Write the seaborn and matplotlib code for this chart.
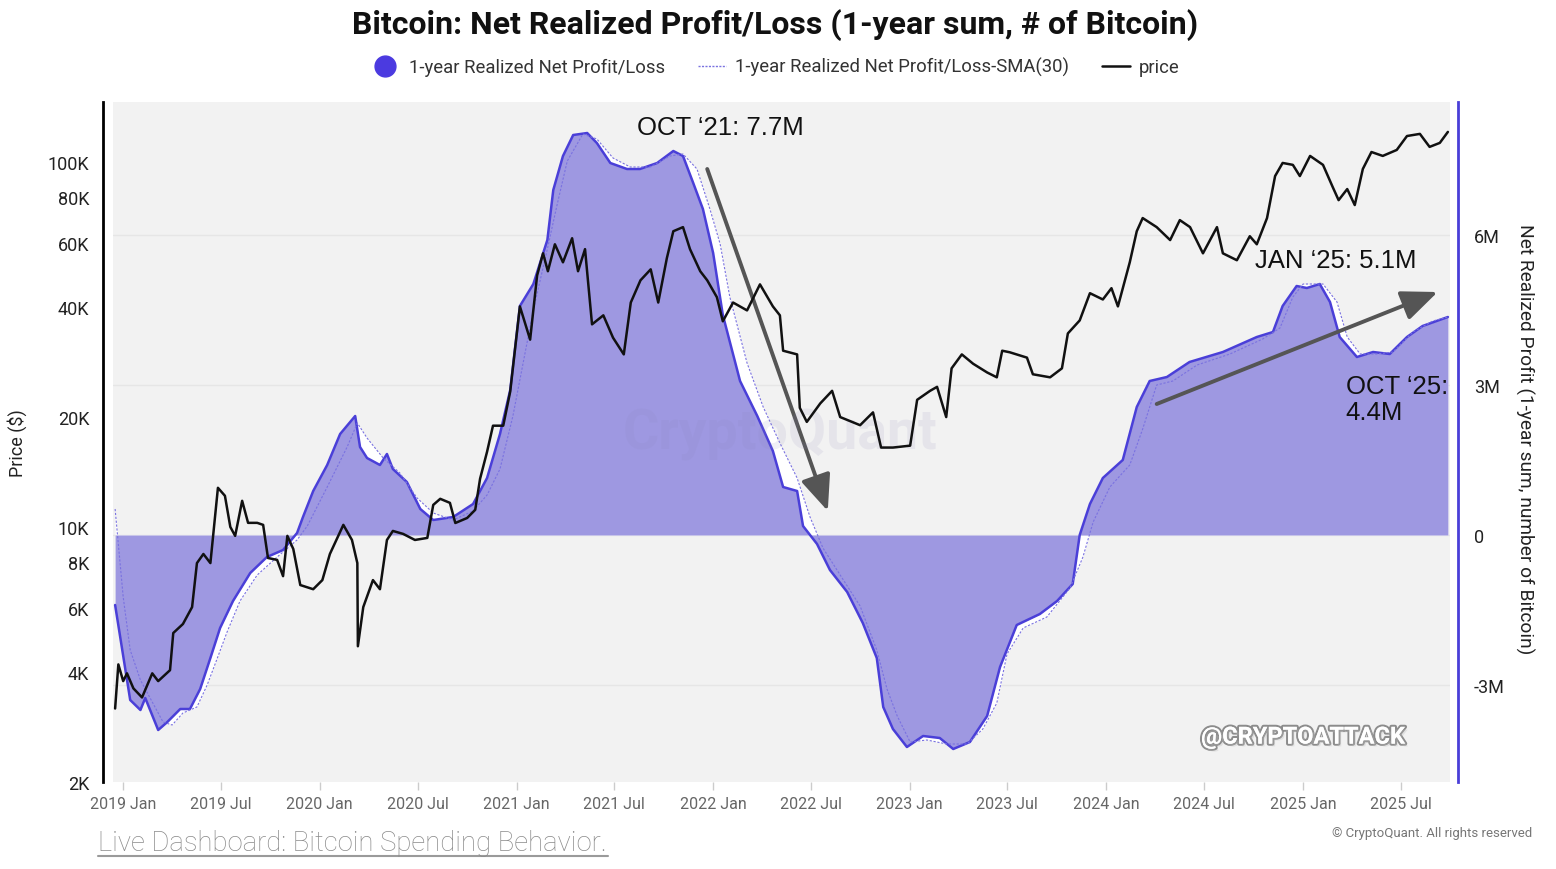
import pandas as pd
import seaborn as sns
import matplotlib.pyplot as plt
import matplotlib.dates as mdates
import matplotlib.ticker as mticker
import matplotlib.patheffects as pe
from matplotlib.lines import Line2D

# 1-year realized net profit/loss, million BTC
nrpl_dates = [
    '2018-12-17', '2019-01-14', '2019-02-02', '2019-02-11', '2019-03-07', '2019-03-24',
    '2019-04-17', '2019-05-05', '2019-05-24', '2019-06-12', '2019-06-30', '2019-07-24',
    '2019-08-25', '2019-09-25', '2019-10-25', '2019-11-20', '2019-12-01', '2019-12-20',
    '2020-01-15', '2020-02-08', '2020-03-07', '2020-03-16', '2020-03-29', '2020-04-22',
    '2020-05-05', '2020-05-16', '2020-06-11', '2020-07-06', '2020-07-30', '2020-09-05',
    '2020-10-12', '2020-11-07', '2020-12-01', '2020-12-20', '2021-01-07', '2021-02-01',
    '2021-02-27', '2021-03-10', '2021-03-28', '2021-04-16', '2021-05-12', '2021-05-30',
    '2021-06-24', '2021-07-25', '2021-08-18', '2021-09-19', '2021-10-19', '2021-11-06',
    '2021-11-25', '2021-12-13', '2022-01-01', '2022-01-19', '2022-02-20', '2022-03-24',
    '2022-04-22', '2022-05-11', '2022-06-06', '2022-06-17', '2022-07-13', '2022-08-06',
    '2022-09-07', '2022-10-06', '2022-11-01', '2022-11-13', '2022-12-01', '2022-12-27',
    '2023-01-26', '2023-02-26', '2023-03-23', '2023-04-23', '2023-05-25', '2023-06-18',
    '2023-07-19', '2023-08-31', '2023-10-02', '2023-10-31', '2023-11-13', '2023-12-02',
    '2023-12-26', '2024-02-01', '2024-02-27', '2024-03-22', '2024-04-23', '2024-06-04',
    '2024-08-05', '2024-10-07', '2024-11-06', '2024-11-24', '2024-12-20', '2025-01-08',
    '2025-02-01', '2025-02-20', '2025-03-10', '2025-04-11', '2025-05-11', '2025-06-11',
    '2025-07-13', '2025-08-11', '2025-09-27',
]
nrpl_values = [
    -1.40, -3.30, -3.50, -3.26, -3.90, -3.74,
    -3.48, -3.48, -3.08, -2.46, -1.86, -1.32,
    -0.76, -0.44, -0.30, 0.04, 0.36, 0.88,
    1.40, 2.02, 2.38, 1.76, 1.54, 1.40,
    1.62, 1.32, 1.06, 0.52, 0.30, 0.36,
    0.62, 1.14, 2.02, 2.90, 4.58, 5.02,
    5.90, 6.90, 7.58, 8.00, 8.04, 7.84,
    7.44, 7.32, 7.32, 7.44, 7.68, 7.58,
    7.04, 6.52, 5.64, 4.40, 3.08, 2.38,
    1.68, 0.96, 0.88, 0.18, -0.18, -0.70,
    -1.14, -1.76, -2.46, -3.44, -3.88, -4.24,
    -4.02, -4.06, -4.28, -4.14, -3.62, -2.64,
    -1.80, -1.58, -1.32, -0.98, 0.00, 0.62,
    1.14, 1.50, 2.56, 3.08, 3.16, 3.46,
    3.66, 3.96, 4.06, 4.58, 4.98, 4.94,
    5.02, 4.66, 3.96, 3.56, 3.66, 3.62,
    3.96, 4.18, 4.36,
]

# SMA(30) of the same metric, million BTC
sma_dates = [
    '2018-12-17', '2019-01-01', '2019-01-14', '2019-02-02', '2019-02-20', '2019-03-16',
    '2019-04-02', '2019-04-22', '2019-05-18', '2019-06-06', '2019-06-25', '2019-07-13',
    '2019-08-06', '2019-09-07', '2019-10-14', '2019-11-20', '2019-12-09', '2020-01-15',
    '2020-02-21', '2020-03-11', '2020-03-29', '2020-04-28', '2020-05-29', '2020-06-30',
    '2020-07-30', '2020-09-05', '2020-10-12', '2020-11-07', '2020-12-01', '2020-12-25',
    '2021-01-13', '2021-02-01', '2021-02-27', '2021-03-17', '2021-04-05', '2021-05-04',
    '2021-05-30', '2021-06-29', '2021-07-31', '2021-09-06', '2021-10-13', '2021-11-06',
    '2021-12-02', '2021-12-26', '2022-01-14', '2022-02-01', '2022-03-05', '2022-04-04',
    '2022-05-05', '2022-06-06', '2022-06-30', '2022-07-24', '2022-08-25', '2022-10-01',
    '2022-11-01', '2022-11-20', '2022-12-09', '2023-01-02', '2023-02-02', '2023-03-11',
    '2023-04-18', '2023-05-17', '2023-06-12', '2023-07-01', '2023-07-31', '2023-09-13',
    '2023-10-26', '2023-11-19', '2023-12-08', '2024-01-08', '2024-02-14', '2024-03-09',
    '2024-04-04', '2024-05-04', '2024-06-18', '2024-08-18', '2024-10-18', '2024-11-19',
    '2024-12-13', '2025-01-01', '2025-02-07', '2025-03-05', '2025-03-24', '2025-04-17',
    '2025-05-18', '2025-06-17', '2025-07-24', '2025-08-30', '2025-09-27',
]
sma_values = [
    0.52, -1.24, -2.30, -2.90, -3.26, -3.74,
    -3.80, -3.56, -3.44, -3.00, -2.46, -1.94,
    -1.32, -0.80, -0.44, -0.10, 0.18, 0.96,
    1.76, 2.24, 1.94, 1.54, 1.24, 0.74,
    0.44, 0.30, 0.48, 0.80, 1.32, 2.38,
    3.44, 4.50, 5.72, 6.60, 7.48, 8.02,
    7.92, 7.54, 7.36, 7.36, 7.58, 7.62,
    7.32, 6.52, 5.82, 4.76, 3.44, 2.56,
    1.84, 1.14, 0.36, -0.26, -0.80, -1.42,
    -2.30, -3.08, -3.62, -4.14, -4.10, -4.18,
    -4.18, -3.88, -3.36, -2.38, -1.86, -1.64,
    -1.06, -0.44, 0.26, 0.96, 1.40, 2.12,
    3.00, 3.08, 3.40, 3.62, 3.92, 4.14,
    4.76, 5.02, 5.02, 4.66, 3.96, 3.62,
    3.62, 3.66, 4.06, 4.28, 4.36,
]

# BTC price, USD
price_dates = [
    '2018-12-17', '2018-12-23', '2019-01-01', '2019-01-08', '2019-01-20', '2019-02-05',
    '2019-02-24', '2019-03-07', '2019-03-29', '2019-04-04', '2019-04-22', '2019-05-09',
    '2019-05-18', '2019-05-30', '2019-06-12', '2019-06-26', '2019-07-09', '2019-07-19',
    '2019-07-28', '2019-08-10', '2019-08-21', '2019-09-07', '2019-09-18', '2019-09-27',
    '2019-10-14', '2019-10-25', '2019-11-02', '2019-11-13', '2019-11-26', '2019-12-20',
    '2020-01-06', '2020-01-20', '2020-02-14', '2020-03-01', '2020-03-11', '2020-03-12',
    '2020-03-22', '2020-04-09', '2020-04-22', '2020-05-05', '2020-05-16', '2020-06-04',
    '2020-06-26', '2020-07-19', '2020-07-30', '2020-08-12', '2020-08-30', '2020-09-09',
    '2020-10-01', '2020-10-16', '2020-10-25', '2020-11-07', '2020-11-18', '2020-12-07',
    '2020-12-20', '2021-01-07', '2021-01-26', '2021-02-08', '2021-02-19', '2021-02-28',
    '2021-03-13', '2021-03-28', '2021-04-14', '2021-04-25', '2021-05-08', '2021-05-21',
    '2021-06-11', '2021-06-29', '2021-07-19', '2021-08-01', '2021-08-19', '2021-09-07',
    '2021-09-21', '2021-10-07', '2021-10-19', '2021-11-06', '2021-11-19', '2021-12-08',
    '2021-12-21', '2022-01-08', '2022-01-19', '2022-02-07', '2022-03-05', '2022-03-29',
    '2022-04-22', '2022-05-05', '2022-05-11', '2022-06-06', '2022-06-11', '2022-06-24',
    '2022-07-19', '2022-08-10', '2022-08-25', '2022-10-01', '2022-10-25', '2022-11-09',
    '2022-12-01', '2023-01-02', '2023-01-15', '2023-02-08', '2023-02-21', '2023-03-10',
    '2023-03-20', '2023-04-08', '2023-04-29', '2023-05-25', '2023-06-12', '2023-06-22',
    '2023-07-06', '2023-08-07', '2023-08-18', '2023-09-19', '2023-10-11', '2023-10-22',
    '2023-11-13', '2023-12-02', '2023-12-26', '2024-01-11', '2024-01-23', '2024-02-14',
    '2024-02-27', '2024-03-09', '2024-04-04', '2024-04-29', '2024-05-17', '2024-06-05',
    '2024-06-29', '2024-07-25', '2024-08-05', '2024-08-31', '2024-09-24', '2024-10-07',
    '2024-10-26', '2024-11-10', '2024-11-24', '2024-12-13', '2024-12-26', '2025-01-14',
    '2025-02-07', '2025-02-25', '2025-03-08', '2025-03-24', '2025-04-07', '2025-04-22',
    '2025-05-08', '2025-05-29', '2025-06-24', '2025-07-13', '2025-08-06', '2025-08-24',
    '2025-09-12', '2025-09-27',
]
price_values = [
    3180, 4200, 3780, 3970, 3610, 3410,
    3970, 3780, 4050, 5120, 5420, 6030,
    7960, 8430, 7960, 12800, 12170, 10000,
    9450, 11790, 10260, 10260, 10130, 8220,
    8120, 7330, 9450, 8700, 6930, 6750,
    7150, 8430, 10130, 9210, 7960, 4710,
    6030, 7150, 6750, 9210, 9750, 9570,
    9210, 9330, 11490, 11940, 11640, 10250,
    10580, 11140, 13550, 16070, 18940, 18940,
    23500, 40200, 32600, 48900, 56200, 50200,
    59500, 53100, 61800, 50200, 57700, 35900,
    38000, 33000, 29700, 41200, 47400, 50800,
    41200, 54500, 64600, 66300, 57700, 50200,
    47400, 42600, 36600, 41200, 39200, 46200,
    40200, 38000, 30400, 29700, 21200, 19400,
    21800, 23600, 20000, 19000, 20600, 16500,
    16500, 16700, 22300, 23600, 24200, 20000,
    27200, 29700, 28000, 26500, 25700, 30400,
    30100, 29100, 26200, 25700, 27200, 33900,
    36800, 43700, 42000, 45100, 40200, 53100,
    64600, 70200, 66300, 61100, 69300, 66300,
    56200, 66300, 56200, 53800, 62600, 59500,
    70200, 91500, 99400, 98200, 91500, 103900,
    98200, 85400, 78600, 84300, 76200, 95700,
    106500, 103900, 107900, 117800, 119400, 110000,
    112800, 120900,
]

price_ticks = [2000, 4000, 6000, 8000, 10000, 20000, 40000, 60000, 80000, 100000]
price_tick_labels = ['2K', '4K', '6K', '8K', '10K', '20K', '40K', '60K', '80K', '100K']
nrpl_ticks = [-3, 0, 3, 6]
nrpl_tick_labels = ['-3M', '0', '3M', '6M']

TITLE = 'Bitcoin: Net Realized Profit/Loss (1-year sum, # of Bitcoin)'
LINE_BLUE = '#4a3fd8'
FILL_BLUE = '#9e98e1'
BG = '#f2f2f2'


def build_frames():
    df_nrpl = pd.DataFrame({'date': pd.to_datetime(nrpl_dates), 'value': nrpl_values})
    df_sma = pd.DataFrame({'date': pd.to_datetime(sma_dates), 'value': sma_values})
    df_price = pd.DataFrame({'date': pd.to_datetime(price_dates), 'price': price_values})
    return df_nrpl, df_sma, df_price


def main():
    sns.set_theme(style='white')
    plt.rcParams['font.family'] = ['Roboto', 'DejaVu Sans']

    df_nrpl, df_sma, df_price = build_frames()

    fig = plt.figure(figsize=(15.56, 8.7), dpi=100)
    ax = fig.add_axes([0.0726, 0.1, 0.8593, 0.7816])
    ax2 = ax.twinx()

    # price axis on top of the profit/loss axis
    ax.set_zorder(ax2.get_zorder() + 1)
    ax.patch.set_visible(False)
    ax2.patch.set_visible(True)
    ax2.patch.set_facecolor(BG)

    # net realized profit/loss (right axis)
    ax2.fill_between(df_sma['date'], df_sma['value'], 0, color='white', lw=0, zorder=1)
    ax2.fill_between(df_nrpl['date'], df_nrpl['value'], 0, color=FILL_BLUE, lw=0, zorder=2)
    sns.lineplot(data=df_nrpl, x='date', y='value', ax=ax2, color=LINE_BLUE, lw=1.8, zorder=3)
    sns.lineplot(data=df_sma, x='date', y='value', ax=ax2, color='#7a72e0', lw=0.8,
                 linestyle=(0, (2, 1.5)), zorder=4)
    ax2.set_ylim(-4.94, 8.66)
    ax2.yaxis.set_major_locator(mticker.FixedLocator(nrpl_ticks))
    ax2.yaxis.set_major_formatter(mticker.FixedFormatter(nrpl_tick_labels))
    ax2.set_axisbelow(True)
    ax2.grid(axis='y', color='#e6e6e6', lw=1)
    ax2.grid(axis='x', visible=False)

    # price (left axis, log)
    sns.lineplot(data=df_price, x='date', y='price', ax=ax, color='#111111', lw=1.8)
    ax.set_yscale('log')
    ax.set_ylim(2000, 146000)
    ax.yaxis.set_major_locator(mticker.FixedLocator(price_ticks))
    ax.yaxis.set_major_formatter(mticker.FixedFormatter(price_tick_labels))
    ax.yaxis.set_minor_locator(mticker.NullLocator())
    ax.grid(False)

    ax.set_xlim(pd.Timestamp('2018-12-13'), pd.Timestamp('2025-10-01'))
    ax.xaxis.set_major_locator(mdates.MonthLocator(bymonth=[1, 7]))
    ax.xaxis.set_major_formatter(mdates.DateFormatter('%Y %b'))

    # ticks and spines
    ax.tick_params(axis='x', length=6, width=1, color='#cccccc', pad=4,
                   labelsize=11.5, labelcolor='#666666', bottom=True)
    ax.tick_params(axis='y', length=0, pad=10, labelsize=13, labelcolor='#222222')
    ax2.tick_params(axis='y', length=0, pad=11, labelsize=13, labelcolor='#222222')
    for side in ['top', 'right', 'bottom']:
        ax.spines[side].set_visible(False)
    ax.spines['left'].set_color('black')
    ax.spines['left'].set_linewidth(2)
    ax.spines['left'].set_position(('outward', 7))
    for side in ['top', 'left', 'bottom']:
        ax2.spines[side].set_visible(False)
    ax2.spines['right'].set_color(LINE_BLUE)
    ax2.spines['right'].set_linewidth(2)
    ax2.spines['right'].set_position(('outward', 6))

    ax.set_xlabel('')
    ax.set_ylabel('Price ($)', fontsize=13, color='#222222')
    ax.yaxis.set_label_coords(-0.064, 0.5)
    ax2.set_ylabel('Net Realized Profit (1-year sum, number of Bitcoin)', fontsize=13.8,
                   color='#222222', rotation=-90, va='center')
    ax2.yaxis.set_label_coords(1.056, 0.505)

    # annotations
    arrow = dict(arrowstyle='-|>,head_length=1.0,head_width=0.42', color='#555555',
                 lw=2.8, mutation_scale=22, shrinkA=0, shrinkB=0)
    ax2.annotate('', xy=(pd.Timestamp('2022-08-02'), 0.48),
                 xytext=(pd.Timestamp('2021-12-21'), 7.32), arrowprops=arrow, zorder=6)
    ax2.annotate('', xy=(pd.Timestamp('2025-09-08'), 4.86),
                 xytext=(pd.Timestamp('2024-04-04'), 2.62), arrowprops=arrow, zorder=6)
    note = dict(fontsize=18.5, color='#111111', family=['Liberation Sans', 'DejaVu Sans'],
                ha='left', va='center', zorder=6)
    ax2.text(pd.Timestamp('2021-08-13'), 8.16, 'OCT \u201821: 7.7M', **note)
    ax2.text(pd.Timestamp('2024-10-03'), 5.5, 'JAN \u201825: 5.1M', **note)
    ax2.text(pd.Timestamp('2025-03-21'), 2.72, 'OCT \u201825:\n4.4M', linespacing=1.15, **note)

    # watermarks
    ax.text(0.499, 0.512, 'CryptoQuant', transform=ax.transAxes, ha='center', va='center',
            fontsize=40, weight='bold', color='#8a86b8', alpha=0.12, zorder=0)
    ax.text(0.89, 0.066, '@CRYPTOATTACK', transform=ax.transAxes, ha='center', va='center',
            fontsize=17, weight='bold', color='white',
            family=['Liberation Sans Narrow', 'Roboto', 'DejaVu Sans'],
            path_effects=[pe.withStroke(linewidth=3, foreground='#8c8c8c'),
                          pe.SimplePatchShadow(offset=(2, -2), shadow_rgbFace='#bbbbbb'),
                          pe.Normal()])

    # title and legend
    fig.text(0.498, 0.971, TITLE, ha='center', va='center', fontsize=23, weight='bold',
             color='#111111')
    handles = [
        Line2D([], [], marker='o', markersize=15, color='#4b3ae0', linestyle='none'),
        Line2D([], [], color='#7a72e0', lw=1, linestyle=(0, (1.5, 1))),
        Line2D([], [], color='#111111', lw=1.8),
    ]
    labels = ['1-year Realized Net Profit/Loss', '1-year Realized Net Profit/Loss-SMA(30)',
              'price']
    leg = fig.legend(handles, labels, loc='center', bbox_to_anchor=(0.4985, 0.922), ncol=3,
                     frameon=False, fontsize=13.3, handlelength=1.5, handletextpad=0.5,
                     columnspacing=1.8)
    for t in leg.get_texts():
        t.set_color('#333333')

    # footer
    fig.text(0.063, 0.031, 'Live Dashboard: Bitcoin Spending Behavior.', ha='left',
             va='center', fontsize=19.8, color='#8a8a8a', weight='light')
    fig.add_artist(Line2D([0.063, 0.391], [0.015, 0.015], color='#9a9a9a', lw=1.5,
                          transform=fig.transFigure))
    fig.text(0.985, 0.0425, '\u00a9 CryptoQuant. All rights reserved', ha='right',
             va='center', fontsize=9.5, color='#777777')

    fig.savefig('out.png', dpi=100)


if __name__ == '__main__':
    main()
